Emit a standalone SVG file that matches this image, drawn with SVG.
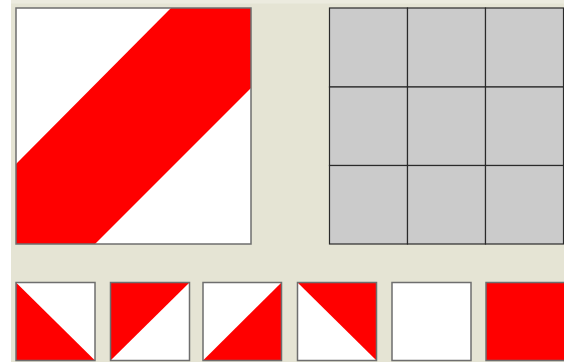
<svg xmlns="http://www.w3.org/2000/svg" width="564" height="362" viewBox="0 0 564 362">
<style>
.frame{stroke:#6e6e6e;stroke-width:1.5}
.w{fill:#ffffff}
.r{fill:#ff0000}
.cell{fill:#cbcbcb;stroke:#2a2a2a;stroke-width:1.2}
</style>
<rect x="0" y="0" width="564" height="362" fill="#e5e4d4"/>
<rect x="11" y="0" width="553" height="3.5" fill="#ecebdf"/>
<rect x="0" y="0" width="11" height="362" fill="#ffffff"/>
<g id="big-square">
<rect x="16" y="8" width="235" height="236" class="w"/>
<polygon points="16,164 171,8 251,8 251,88 95,244 16,244" class="r"/>
<rect x="16" y="8" width="235" height="236" fill="none" class="frame"/>
</g>
<g id="grid">
<rect x="329.5" y="8" width="78" height="79" class="cell"/>
<rect x="407.5" y="8" width="78" height="79" class="cell"/>
<rect x="485.5" y="8" width="78" height="79" class="cell"/>
<rect x="329.5" y="87" width="78" height="78.5" class="cell"/>
<rect x="407.5" y="87" width="78" height="78.5" class="cell"/>
<rect x="485.5" y="87" width="78" height="78.5" class="cell"/>
<rect x="329.5" y="165.5" width="78" height="78.5" class="cell"/>
<rect x="407.5" y="165.5" width="78" height="78.5" class="cell"/>
<rect x="485.5" y="165.5" width="78" height="78.5" class="cell"/>
</g>
<g id="tile1">
<rect x="16" y="282.5" width="79" height="78" class="w"/>
<polygon points="16,282.5 95,360.5 16,360.5" class="r"/>
<rect x="16" y="282.5" width="79" height="78" fill="none" class="frame"/>
</g>
<g id="tile2">
<rect x="110.5" y="282.5" width="79" height="78" class="w"/>
<polygon points="110.5,282.5 189.5,282.5 110.5,360.5" class="r"/>
<rect x="110.5" y="282.5" width="79" height="78" fill="none" class="frame"/>
</g>
<g id="tile3">
<rect x="203" y="282.5" width="78.5" height="78" class="w"/>
<polygon points="281.5,282.5 281.5,360.5 203,360.5" class="r"/>
<rect x="203" y="282.5" width="78.5" height="78" fill="none" class="frame"/>
</g>
<g id="tile4">
<rect x="297.5" y="282.5" width="79" height="78" class="w"/>
<polygon points="297.5,282.5 376.5,282.5 376.5,360.5" class="r"/>
<rect x="297.5" y="282.5" width="79" height="78" fill="none" class="frame"/>
</g>
<g id="tile5">
<rect x="392" y="282.5" width="79" height="78" class="w frame"/>
</g>
<g id="tile6">
<rect x="486" y="282.5" width="79" height="78" class="r frame"/>
</g>
</svg>
